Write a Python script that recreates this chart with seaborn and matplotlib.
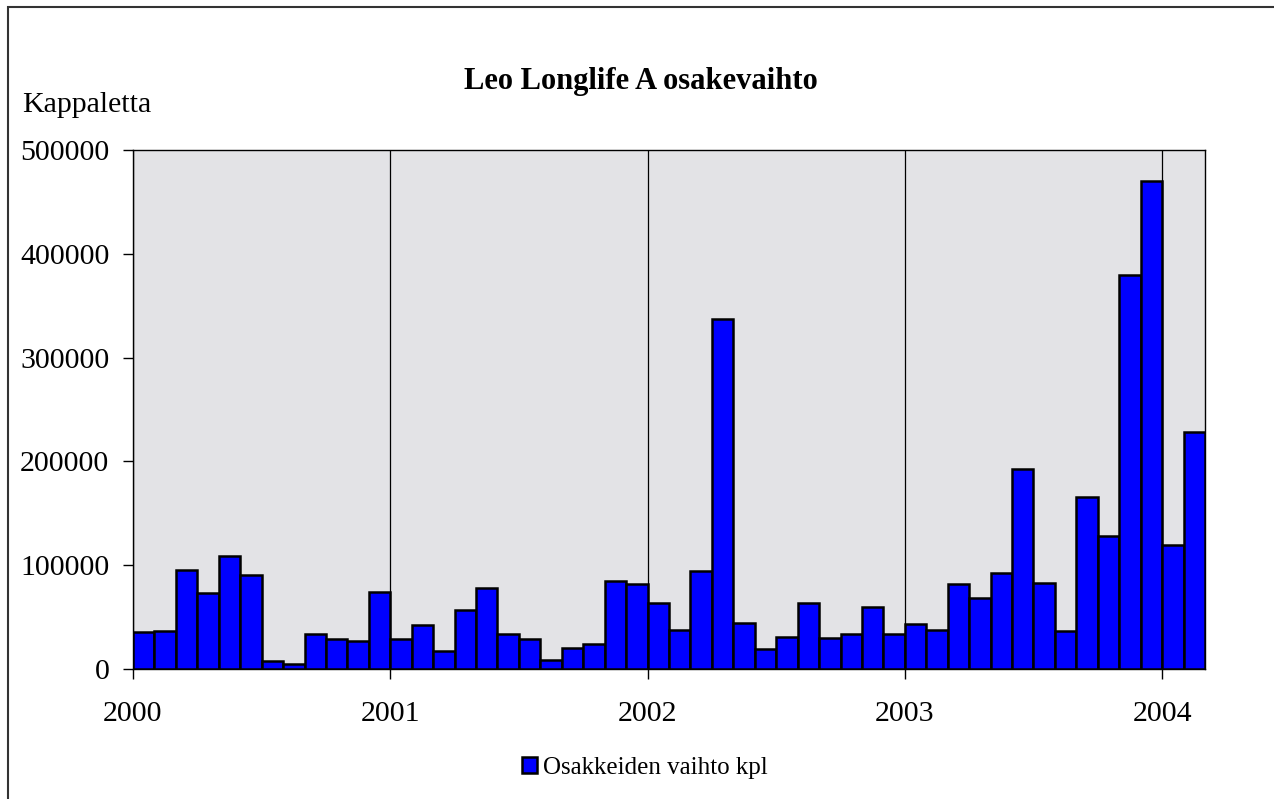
import pandas as pd
import numpy as np
import seaborn as sns
import matplotlib.pyplot as plt
from matplotlib.patches import Rectangle

sns.set_theme(style='white')
plt.rcParams['font.family'] = ['Liberation Serif', 'DejaVu Serif']
plt.rcParams['text.color'] = 'black'
plt.rcParams['xtick.color'] = 'black'
plt.rcParams['ytick.color'] = 'black'

# monthly share turnover, Jan 2000 - Feb 2004
vol_2000 = [36000, 37000, 95000, 73000, 109000, 91000, 7500, 4500, 34000, 29000, 27000, 74000]
vol_2001 = [28500, 42000, 17000, 57000, 78500, 33500, 28500, 9000, 20500, 24000, 84500, 82000]
vol_2002 = [63500, 37500, 94000, 337500, 44000, 19500, 30500, 64000, 29500, 33500, 60000, 33500]
vol_2003 = [43500, 38000, 82000, 68500, 92500, 193000, 82500, 37000, 166000, 128000, 380000, 470000]
vol_2004 = [119500, 228000]
years = ['2000', '2001', '2002', '2003', '2004']

volumes = vol_2000 + vol_2001 + vol_2002 + vol_2003 + vol_2004
df = pd.DataFrame({'month': np.arange(len(volumes)) + 0.5, 'kpl': volumes})

fig = plt.figure(figsize=(12.74, 7.99), dpi=100)
ax = fig.add_axes([133/1274, (799-669)/799, 1072/1274, 519/799])
ax.set_facecolor('#e3e3e6')

sns.barplot(data=df, x='month', y='kpl', native_scale=True, width=1,
            color='#0000ff', saturation=1, edgecolor='black', linewidth=1.8,
            label='Osakkeiden vaihto kpl', ax=ax, zorder=3)

ax.set_xlim(0, len(volumes))
ax.set_ylim(0, 500000)
ax.set_xticks(np.arange(len(years)) * 12)
ax.set_xticklabels(years)
ax.set_yticks(np.arange(0, 500001, 100000))
ax.set_yticklabels([str(v) for v in range(0, 500001, 100000)])
ax.xaxis.grid(True, color='black', linewidth=0.9, zorder=1)
ax.yaxis.grid(False)
ax.set_axisbelow(True)
for s in ax.spines.values():
    s.set_color('black')
    s.set_linewidth(1.0)
ax.tick_params(axis='both', direction='out', length=7, width=1, color='black',
               labelsize=21.5, bottom=True, left=True)
ax.tick_params(axis='x', pad=16)
ax.tick_params(axis='y', pad=10)
ax.set_xlabel('')
ax.set_ylabel('')
if ax.get_legend():
    ax.get_legend().remove()

fig.text(641/1274, 1 - 89/799, 'Leo Longlife A osakevaihto', ha='center', va='baseline',
         fontsize=22, fontweight='bold')
fig.text(22/1274, 1 - 112/799, 'Kappaletta', ha='left', va='baseline', fontsize=21.5)

h, l = ax.get_legend_handles_labels()
fig.legend(h, l, loc='center', bbox_to_anchor=(645/1274, 1 - 768/799), frameon=False,
           fontsize=18, handlelength=0.6, handleheight=0.6, handletextpad=0.25)

fig.patches.append(Rectangle((8/1274, -0.05), 1.1, (799-7)/799 + 0.05, transform=fig.transFigure,
                             fill=False, edgecolor='#333333', linewidth=1.5))

fig.savefig('out.png', dpi=100)
